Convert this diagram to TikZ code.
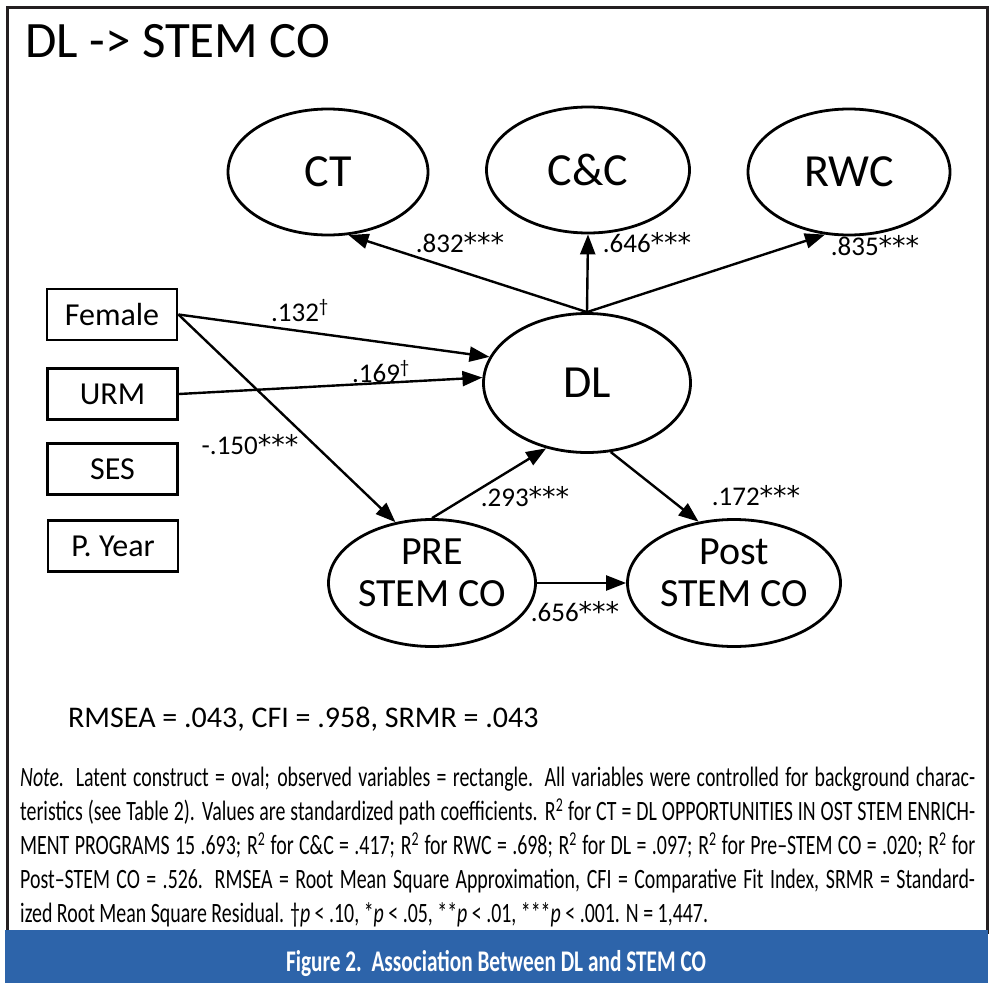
\documentclass[tikz,border=0pt]{standalone}
\usepackage{fontspec}
\setmainfont{Carlito}
\newfontfamily\notefont[FakeStretch=0.71]{Carlito}
\newfontfamily\astfont{DejaVu Sans}
\usetikzlibrary{arrows.meta,shapes.geometric}
\definecolor{barblue}{HTML}{2D64AA}
\definecolor{framegray}{HTML}{231F20}
\newcommand{\fsz}[1]{\fontsize{#1bp}{#1bp}\selectfont}
\newcommand{\fszl}[2]{\fontsize{#1bp}{#2bp}\selectfont}
\newcommand{\stars}{{\astfont\fontsize{27bp}{27bp}\selectfont ***}}
\begin{document}
\begin{tikzpicture}[x=1bp,y=-1bp,
  latent/.style={draw, ellipse, line width=2.8bp, inner sep=0pt, align=center},
  twoline/.style={font=\fszl{40}{42}, align=center, inner sep=0pt, yshift=10bp},
  obs/.style={draw, rectangle, line width=2.8bp, inner sep=0pt, minimum width=130bp, minimum height=51bp, font=\fsz{32}},
  patharrow/.style={line width=2.4bp, -{Triangle[length=20bp,width=15bp]}},
  coef/.style={font=\fsz{27}, inner sep=0pt},
  noteline/.style={font=\notefont\fsz{28}, inner sep=0pt, anchor=base west}]
\useasboundingbox (0,0) rectangle (992,983);
\fill[white] (0,0) rectangle (992,983);
% frame
\draw[framegray, line width=3bp] (7,7) rectangle (987,932);
\fill[barblue] (5,930) rectangle (988,983);
% title
\node[font=\fsz{51}, inner sep=0pt, anchor=base west] (title) at (25,57) {DL -> STEM CO};
% latent
\node[latent, minimum width=200bp, minimum height=126bp, font=\fsz{46}] (CT) at (328,172) {CT};
\node[latent, minimum width=203bp, minimum height=126bp, font=\fsz{46}] (CC) at (588,170) {C\&C};
\node[latent, minimum width=202bp, minimum height=126bp, font=\fsz{46}] (RWC) at (849,172) {RWC};
\node[latent, minimum width=207bp, minimum height=139bp, font=\fsz{46}] (DL) at (587,383) {DL};
\node[latent, minimum width=207bp, minimum height=127bp] (PRE) at (432,583) {};
\node[latent, minimum width=213bp, minimum height=127bp] (Post) at (734,583) {};
\node[twoline] (PREtext) at (PRE.center) {PRE\\STEM CO};
\node[twoline] (Posttext) at (Post.center) {Post\\STEM CO};
% observed
\node[obs] (Female) at (112,314.5) {Female};
\node[obs] (URM) at (112.5,394) {URM};
\node[obs] (SES) at (112.5,469) {SES};
\node[obs] (PYear) at (113,546) {P. Year};
% paths
\draw[patharrow] (DL.north) -- (CT.-72);
\draw[patharrow] (DL.north) -- (CC.south);
\draw[patharrow] (DL.north) -- (RWC.-111);
\draw[patharrow] (Female.east) -- (DL.165);
\draw[patharrow] (URM.east) -- (DL.177);
\draw[patharrow] (Female.east) -- (PRE.121);
\draw[patharrow] (PRE.north) -- (DL.-122);
\draw[patharrow] (DL.-71) -- (Post.120);
\draw[patharrow] (PRE.east) -- (Post.west);
% coefficients
\node[coef] (c1) at (460,243) {.832\stars};
\node[coef] (c2) at (647,243) {.646\stars};
\node[coef] (c3) at (875,246) {.835\stars};
\node[coef] (c4) at (300,311) {.132\textsuperscript{†}};
\node[coef] (c5) at (381,372) {.169\textsuperscript{†}};
\node[coef] (c6) at (250,445) {-.150\stars};
\node[coef] (c7) at (525,497) {.293\stars};
\node[coef] (c8) at (756,496) {.172\stars};
\node[coef] (c9) at (575,612) {.656\stars};
% fit
\node[font=\fsz{30}, inner sep=0pt, anchor=base west] (fit) at (68,727) {RMSEA = .043, CFI = .958, SRMR = .043};
% note
\node[noteline] (n1) at (20,786) {\makebox[955bp][s]{\textit{Note.} Latent construct = oval; observed variables = rectangle. All variables were controlled for background charac-}};
\node[noteline] (n2) at (20,820) {\makebox[955bp][s]{teristics (see Table 2). Values are standardized path coefficients. R\textsuperscript{2} for CT = DL OPPORTUNITIES IN OST STEM ENRICH-}};
\node[noteline] (n3) at (20,854) {\makebox[955bp][s]{MENT PROGRAMS 15 .693; R\textsuperscript{2} for C\&C = .417; R\textsuperscript{2} for RWC = .698; R\textsuperscript{2} for DL = .097; R\textsuperscript{2} for Pre–STEM CO = .020; R\textsuperscript{2} for}};
\node[noteline] (n4) at (20,888) {\makebox[955bp][s]{Post–STEM CO = .526. RMSEA = Root Mean Square Approximation, CFI = Comparative Fit Index, SRMR = Standard-}};
\node[noteline] (n5) at (20,922) {ized Root Mean Square Residual. †\textit{p} < .10, *\textit{p} < .05, **\textit{p} < .01, ***\textit{p} < .001. N = 1,447.};
% caption
\node[font=\notefont\bfseries\fsz{30}, text=white, inner sep=0pt] (cap) at (496,963) {Figure 2.\ \ Association Between DL and STEM CO};
\end{tikzpicture}
\end{document}
